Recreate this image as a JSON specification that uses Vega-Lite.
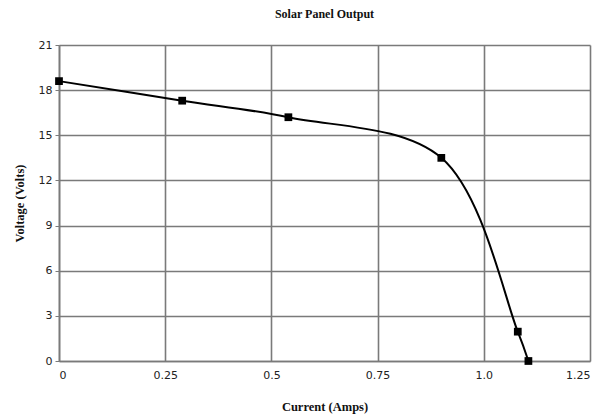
{
  "$schema": "https://vega.github.io/schema/vega-lite/v6.json",
  "width": 531,
  "height": 316,
  "autosize": {"type": "none"},
  "padding": {"left": 59, "top": 45, "right": 18, "bottom": 58},
  "background": "white",
  "title": {
    "text": "Solar Panel Output",
    "font": "Liberation Serif",
    "fontSize": 12,
    "fontWeight": "bold",
    "color": "#111",
    "anchor": "middle",
    "offset": 18
  },
  "data": {
    "values": [
      {"current": 0, "voltage": 18.6},
      {"current": 0.29, "voltage": 17.3},
      {"current": 0.54, "voltage": 16.2},
      {"current": 0.9, "voltage": 13.5},
      {"current": 1.08, "voltage": 1.95},
      {"current": 1.105, "voltage": 0}
    ]
  },
  "config": {
    "view": {"stroke": null},
    "axis": {
      "gridColor": "#7a7a7a",
      "gridWidth": 1.6,
      "gridOpacity": 1,
      "domainColor": "#7a7a7a",
      "domainWidth": 1.6,
      "tickColor": "#7a7a7a",
      "tickSize": 4,
      "labelFont": "DejaVu Sans",
      "labelFontSize": 11,
      "labelColor": "#222",
      "titleFont": "Liberation Serif",
      "titleFontSize": 12.5,
      "titleFontWeight": "bold",
      "titleColor": "#111"
    }
  },
  "layer": [
    {
      "mark": {"type": "line", "interpolate": "catmull-rom", "color": "black", "strokeWidth": 2},
      "encoding": {
        "x": {
          "field": "current",
          "type": "quantitative",
          "scale": {"domain": [0, 1.25], "nice": false},
          "axis": {
            "title": "Current (Amps)",
            "values": [0, 0.25, 0.5, 0.75, 1, 1.25],
            "labelExpr": "datum.value == 0 ? '0' : datum.value == 1 ? '1.0' : datum.value == 0.5 ? '0.5' : datum.value == 0.25 ? '0.25' : datum.value == 0.75 ? '0.75' : '1.25'",
            "tickSize": 0,
            "labelPadding": 8,
            "titlePadding": 20
          }
        },
        "y": {
          "field": "voltage",
          "type": "quantitative",
          "scale": {"domain": [0, 21], "nice": false},
          "axis": {
            "title": "Voltage (Volts)",
            "values": [0, 3, 6, 9, 12, 15, 18, 21],
            "labelPadding": 3,
            "titlePadding": 12
          }
        }
      }
    },
    {
      "mark": {"type": "point", "shape": "square", "filled": true, "color": "black", "size": 60, "opacity": 1},
      "encoding": {
        "x": {"field": "current", "type": "quantitative"},
        "y": {"field": "voltage", "type": "quantitative"}
      }
    }
  ]
}
